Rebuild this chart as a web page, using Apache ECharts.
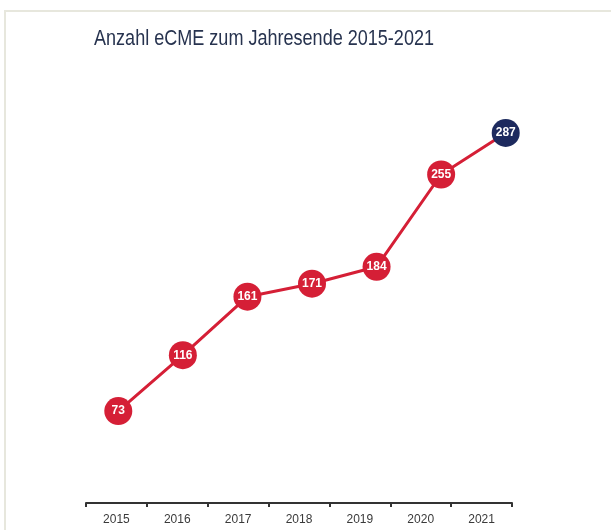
<!DOCTYPE html>
<html><head><meta charset="utf-8">
<script src="https://cdn.jsdelivr.net/npm/echarts@6/dist/echarts.min.js"></script>
<style>html,body{margin:0;padding:0;background:#fff}#c{width:611px;height:530px}</style>
</head><body><div id="c"></div>
<script>
const titleText = 'Anzahl eCME zum Jahresende 2015-2021';
const years = ['2015','2016','2017','2018','2019','2020','2021'];
const counts = [73, 116, 161, 171, 184, 255, 287];
const red = '#d51f36', navy = '#1d2a5e';
const chart = echarts.init(document.getElementById('c'), null, {renderer:'canvas'});
chart.setOption({
  backgroundColor:'#fff',
  animation:false,
  graphic:[
    {type:'rect',shape:{x:5,y:11,width:700,height:600},style:{fill:'none',stroke:'#e7e7dd',lineWidth:2},silent:true},
    {type:'text',x:264,y:39,scaleX:0.82,style:{text:titleText,align:'center',verticalAlign:'middle',fill:'#27334f',font:'22px "Liberation Sans", Arial, sans-serif'},silent:true}
  ],
  grid:[
    {left:86,right:99,top:100,bottom:27},
    {left:86,right:73,top:116,bottom:24}
  ],
  xAxis:[
    {type:'category',gridIndex:0,data:years,boundaryGap:true,
     axisLine:{lineStyle:{color:'#333',width:2}},
     axisTick:{show:true,length:4,lineStyle:{color:'#333',width:2}},
     axisLabel:{color:'#3a3a3a',fontSize:12,fontFamily:'Liberation Sans, Arial, sans-serif',margin:11}},
    {type:'category',gridIndex:1,data:years,boundaryGap:true,show:false}
  ],
  yAxis:[
    {type:'value',gridIndex:0,show:false,min:0,max:1},
    {type:'value',gridIndex:1,show:false,min:0,max:300,splitLine:{show:false}}
  ],
  series:[{
    type:'line',xAxisIndex:1,yAxisIndex:1,
    data:counts.map((v,i)=> i===counts.length-1 ? {value:v,itemStyle:{color:navy}} : v),
    lineStyle:{color:red,width:3},
    itemStyle:{color:red},
    symbol:'circle',symbolSize:28,
    label:{show:true,position:'inside',color:'#fff',fontWeight:'bold',fontSize:12,fontFamily:'Liberation Sans, Arial, sans-serif'}
  }]
});
</script></body></html>
